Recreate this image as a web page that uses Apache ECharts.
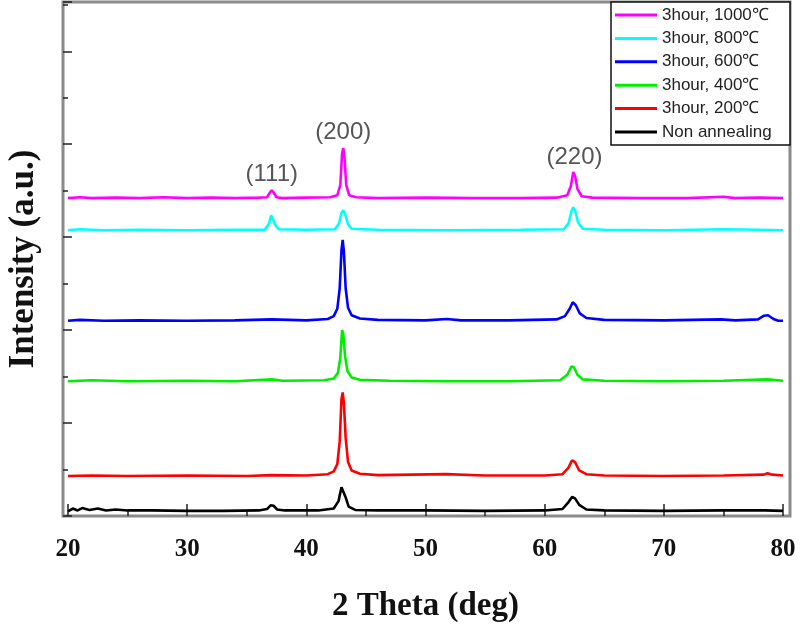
<!DOCTYPE html>
<html>
<head>
	<meta charset="utf-8">
	<title>XRD annealing</title>
	<script src="https://cdn.jsdelivr.net/npm/echarts@6/dist/echarts.min.js"></script>
	<style>
		body { margin: 0; background: #fff; }
	</style>
</head>
<body>
	<div id="main" style="width: 800px;height: 637px;"></div>
</body>
<script type="text/javascript">
	// 2theta / intensity (a.u., curves offset)
	var nonAnnealing = [[20,0.5],[20.4,0.8],[20.8,0.6],[21.2,0.85],[21.8,0.65],[22.5,0.8],[23.2,0.6],[24,0.7],[25,0.6],[27,0.6],[30,0.55],[33,0.55],[36,0.6],[36.7,0.75],[37.0,1.15],[37.25,1.1],[37.55,0.7],[38.2,0.6],[41,0.6],[42.3,0.8],[42.7,1.6],[42.95,3.1],[43.1,3.0],[43.3,2.0],[43.55,1.0],[44.1,0.65],[46,0.6],[50,0.6],[55,0.55],[60,0.6],[61.5,0.75],[62.0,1.5],[62.3,2.05],[62.55,1.9],[62.9,1.2],[63.5,0.7],[65,0.6],[70,0.55],[75,0.6],[78.5,0.6],[80,0.55]];
	var t200 = [[20,4.3],[22,4.35],[25,4.3],[30,4.35],[35,4.3],[37.1,4.4],[40,4.35],[41.8,4.5],[42.3,4.8],[42.6,5.6],[42.8,8.0],[42.95,12.6],[43.05,13.3],[43.15,12.2],[43.3,8.4],[43.5,5.8],[43.8,4.9],[44.5,4.55],[46,4.4],[51.7,4.5],[55,4.35],[60,4.35],[61.5,4.5],[62.0,5.2],[62.3,6.0],[62.55,5.8],[62.9,4.9],[63.5,4.5],[65,4.35],[70,4.3],[75,4.35],[78.4,4.45],[78.7,4.6],[79.1,4.45],[80,4.35]];
	var t400 = [[20,14.5],[22,14.6],[25,14.5],[30,14.55],[34,14.5],[37.1,14.7],[38,14.55],[41.5,14.6],[42.3,14.8],[42.65,15.4],[42.85,17.0],[43.0,20.0],[43.1,19.6],[43.25,17.2],[43.45,15.6],[43.8,14.9],[44.5,14.65],[47,14.55],[52,14.5],[57,14.5],[61.3,14.6],[61.9,15.2],[62.25,16.1],[62.45,16.0],[62.75,15.2],[63.2,14.7],[65,14.55],[70,14.5],[75,14.55],[78.7,14.7],[80,14.55]];
	var t600 = [[20,21.0],[21,21.1],[23,21.0],[26,21.05],[30,21.0],[34,21.05],[37.1,21.15],[40,21.05],[41.8,21.2],[42.3,21.5],[42.6,22.3],[42.8,24.5],[42.95,28.6],[43.05,29.7],[43.15,28.5],[43.3,24.5],[43.5,22.4],[43.8,21.6],[44.5,21.25],[46,21.1],[50,21.05],[51.8,21.2],[53,21.05],[57,21.05],[61,21.15],[61.7,21.5],[62.1,22.3],[62.35,23.0],[62.6,22.7],[62.95,21.8],[63.5,21.3],[65,21.1],[70,21.05],[74.8,21.15],[76,21.05],[77.9,21.15],[78.4,21.55],[78.75,21.6],[79.2,21.2],[79.6,21.0],[80,21.0]];
	var t800 = [[20,30.75],[21,30.85],[23,30.75],[26,30.8],[30,30.75],[34,30.8],[36.5,30.8],[36.85,31.4],[37.05,32.35],[37.2,32.3],[37.4,31.3],[37.7,30.85],[40,30.8],[42.4,30.85],[42.75,31.5],[42.95,32.6],[43.1,32.9],[43.25,32.5],[43.5,31.4],[43.8,30.9],[46,30.8],[52,30.75],[58,30.8],[61.6,30.85],[62.0,31.5],[62.25,32.8],[62.4,33.2],[62.55,32.9],[62.8,31.6],[63.2,30.9],[65,30.8],[70,30.75],[75,30.85],[78,30.8],[80,30.75]];
	var t1000 = [[20,34.2],[21,34.3],[22,34.2],[24,34.25],[26,34.2],[28,34.3],[30,34.2],[32,34.25],[34,34.2],[36,34.25],[36.7,34.3],[36.95,34.8],[37.1,35.05],[37.25,34.8],[37.5,34.3],[38,34.2],[40,34.25],[42,34.3],[42.6,34.5],[42.85,35.6],[43.0,39.0],[43.1,39.6],[43.2,38.6],[43.35,35.6],[43.6,34.5],[44.2,34.3],[46,34.2],[50,34.25],[54,34.2],[58,34.2],[61,34.25],[61.9,34.5],[62.2,35.5],[62.4,37.0],[62.55,36.6],[62.75,35.2],[63.1,34.4],[64,34.25],[68,34.2],[72,34.2],[75,34.35],[76,34.2],[78,34.25],[80,34.2]];

	var seriesNames = ['3hour, 1000℃', '3hour, 800℃', '3hour, 600℃', '3hour, 400℃', '3hour, 200℃', 'Non annealing'];
	var seriesData = [t1000, t800, t600, t400, t200, nonAnnealing];
	var seriesColors = ['#ff00ff', '#00ffff', '#0000ff', '#00ee00', '#ff0000', '#000000'];

	// peak labels: 2theta, height, text
	var peakLabels = [[37.1, 36.8, '(111)'], [43.1, 41.3, '(200)'], [62.5, 38.6, '(220)']];

	var myChart = echarts.init(document.getElementById('main'));

	var series = [];
	for (var i = seriesData.length - 1; i >= 0; i--) {
		series.push({
			name: seriesNames[i],
			type: 'line',
			xAxisIndex: 1,
			yAxisIndex: 1,
			symbol: 'none',
			smooth: false,
			lineStyle: { color: seriesColors[i], width: 2.6 },
			itemStyle: { color: seriesColors[i] },
			data: seriesData[i]
		});
	}
	series.push({
		type: 'scatter',
		xAxisIndex: 1,
		yAxisIndex: 1,
		symbolSize: 0,
		silent: true,
		label: {
			show: true,
			position: 'inside',
			formatter: function (p) { return p.value[2]; },
			fontFamily: 'Liberation Sans',
			fontSize: 24,
			color: '#2a2a2a'
		},
		data: peakLabels
	});

	var option = {
		animation: false,
		backgroundColor: '#fff',
		grid: [
			// frame
			{ left: 63, right: 10, top: 2, bottom: 121, outerBoundsMode: 'none', containLabel: false, show: true, borderColor: '#8a8a8a', borderWidth: 3, backgroundColor: 'transparent' },
			// data area (20..80)
			{ left: 68, right: 17, top: 2, bottom: 121, outerBoundsMode: 'none', containLabel: false }
		],
		xAxis: [
			{ gridIndex: 0, type: 'value', show: false, min: 0, max: 1 },
			{
				gridIndex: 1,
				type: 'value',
				min: 20,
				max: 80,
				interval: 10,
				name: '2 Theta (deg)',
				nameLocation: 'middle',
				nameGap: 74,
				nameTextStyle: { fontFamily: 'Liberation Serif', fontWeight: 'bold', fontSize: 33, color: '#111' },
				axisLine: { show: false },
				axisTick: { show: true, inside: true, length: 12, lineStyle: { color: '#222', width: 1.5 } },
				minorTick: { show: true, splitNumber: 2, length: 6, lineStyle: { color: '#222', width: 1.5 } },
				splitLine: { show: false },
				axisLabel: { margin: 21, fontFamily: 'Liberation Serif', fontWeight: 'bold', fontSize: 25, color: '#111' }
			}
		],
		yAxis: [
			{ gridIndex: 0, type: 'value', show: false, min: 0, max: 1 },
			{
				gridIndex: 1,
				type: 'value',
				min: 0,
				max: 55.3,
				interval: 10,
				offset: 5,
				name: 'Intensity (a.u.)',
				nameLocation: 'middle',
				nameGap: 22,
				nameRotate: 90,
				nameTextStyle: { fontFamily: 'Liberation Serif', fontWeight: 'bold', fontSize: 35, color: '#111' },
				axisLine: { show: false },
				axisTick: { show: true, inside: true, length: 9, lineStyle: { color: '#222', width: 1.5 } },
				minorTick: { show: true, splitNumber: 2, length: 5, lineStyle: { color: '#222', width: 1.5 } },
				splitLine: { show: false },
				axisLabel: { show: false }
			}
		],
		legend: {
			data: seriesNames,
			orient: 'vertical',
			left: 611,
			top: 2,
			padding: [4, 8, 4, 4],
			icon: 'rect',
			itemWidth: 42,
			itemHeight: 3,
			itemGap: 5.4,
			borderColor: '#111',
			borderWidth: 1.5,
			backgroundColor: '#fff',
			textStyle: { fontFamily: 'Liberation Sans', fontSize: 17, lineHeight: 18, color: '#222', width: 120 }
		},
		series: series
	};
	myChart.setOption(option);
</script>
</html>
